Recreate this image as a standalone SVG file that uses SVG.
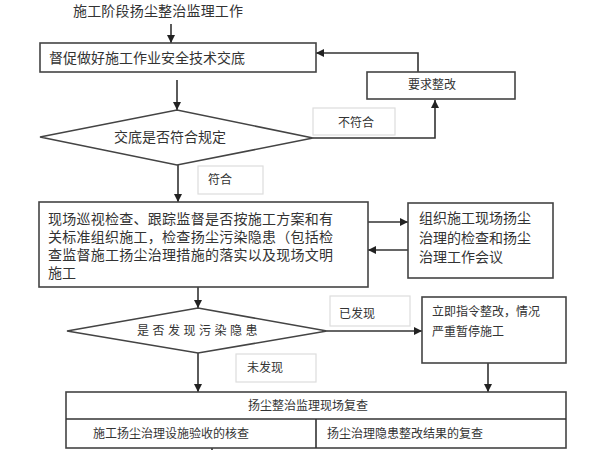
<svg xmlns="http://www.w3.org/2000/svg" width="600" height="450" viewBox="0 0 600 450">
<defs>
<marker id="arr" viewBox="0 0 10 10" refX="10" refY="5" markerWidth="8" markerHeight="8" markerUnits="userSpaceOnUse" orient="auto">
<path d="M0,0 L10,5 L0,10 z" fill="#222"/>
</marker>
<style>
.t{font-family:"Liberation Serif","Noto Sans CJK SC",serif;fill:#333;dominant-baseline:central}
.box{fill:#fff;stroke:#444;stroke-width:1.6}
.lbl{fill:#fff;stroke:#ddd;stroke-width:1.2}
.c{fill:none;stroke:#333;stroke-width:1.6}
.ca{fill:none;stroke:#333;stroke-width:1.6;marker-end:url(#arr)}
.f14{font-size:14px}
.f12{font-size:12px}
</style>
</defs>
<rect width="600" height="450" fill="#fff"/>

<g id="connectors">
<line class="ca" x1="171" y1="24" x2="171" y2="43"/>
<line class="ca" x1="177" y1="80" x2="177" y2="110"/>
<polyline class="ca" points="313,138 435,138 435,100"/>
<polyline class="ca" points="418,72 418,53 316,53"/>
<line class="ca" x1="178" y1="165" x2="178" y2="202"/>
<line class="ca" x1="368" y1="222" x2="408" y2="222"/>
<line class="ca" x1="408" y1="250" x2="368" y2="250"/>
<line class="ca" x1="198" y1="287" x2="198" y2="308"/>
<line class="ca" x1="327" y1="331" x2="422" y2="331"/>
<line class="ca" x1="198" y1="353" x2="198" y2="392"/>
<line class="ca" x1="488" y1="363" x2="488" y2="392"/>
<line class="c" x1="212" y1="448" x2="212" y2="450"/>
</g>

<g id="title">
<text class="t f14" x="73" y="11" textLength="170">施工阶段扬尘整治监理工作</text>
</g>

<g id="box1">
<rect class="box" x="40" y="43" width="276" height="29"/>
<text class="t f14" x="49" y="58">督促做好施工作业安全技术交底</text>
</g>

<g id="decision1">
<polygon class="box" points="40,137 177,110 313,138 177,165"/>
<text class="t f14" x="170" y="137" text-anchor="middle">交底是否符合规定</text>
</g>

<g id="label-no">
<rect class="lbl" x="313" y="108" width="82" height="27"/>
<text class="t f12" x="338" y="123">不符合</text>
</g>

<g id="rectify">
<rect class="box" x="367" y="72" width="148" height="27"/>
<text class="t f12" x="432" y="85" text-anchor="middle">要求整改</text>
</g>

<g id="label-yes">
<rect class="lbl" x="198" y="166" width="65" height="28"/>
<text class="t f12" x="208" y="180">符合</text>
</g>

<g id="inspect">
<rect class="box" x="39" y="202" width="329" height="85"/>
<text class="t f14" x="48" y="219" textLength="285">现场巡视检查、跟踪监督是否按施工方案和有</text>
<text class="t f14" x="48" y="237" textLength="285">关标准组织施工，检查扬尘污染隐患（包括检</text>
<text class="t f14" x="48" y="255" textLength="285">查监督施工扬尘治理措施的落实以及现场文明</text>
<text class="t f14" x="48" y="273">施工</text>
</g>

<g id="meeting">
<rect class="box" x="408" y="203" width="145" height="75"/>
<text class="t f14" x="419" y="218">组织施工现场扬尘</text>
<text class="t f14" x="419" y="238">治理的检查和扬尘</text>
<text class="t f14" x="419" y="257">治理工作会议</text>
</g>

<g id="decision2">
<polygon class="box" points="67,331 198,308 327,331 198,353"/>
<text class="t f12" x="137" y="331" letter-spacing="3.5">是否发现污染隐患</text>
</g>

<g id="label-found">
<rect class="lbl" x="330" y="296" width="80" height="30"/>
<text class="t f12" x="339" y="314">已发现</text>
</g>

<g id="stop">
<rect class="box" x="422" y="297" width="144" height="66"/>
<text class="t f12" x="432" y="312">立即指令整改，情况</text>
<text class="t f12" x="432" y="332">严重暂停施工</text>
</g>

<g id="label-notfound">
<rect class="lbl" x="236" y="354" width="80" height="28"/>
<text class="t f12" x="247" y="368">未发现</text>
</g>

<g id="review">
<rect class="box" x="66" y="392" width="500" height="56"/>
<line class="c" x1="66" y1="419" x2="566" y2="419"/>
<line class="c" x1="316" y1="419" x2="316" y2="448"/>
<text class="t f12" x="308" y="406" text-anchor="middle">扬尘整治监理现场复查</text>
<text class="t f12" x="93" y="434">施工扬尘治理设施验收的核查</text>
<text class="t f12" x="327" y="434">扬尘治理隐患整改结果的复查</text>
</g>
</svg>
